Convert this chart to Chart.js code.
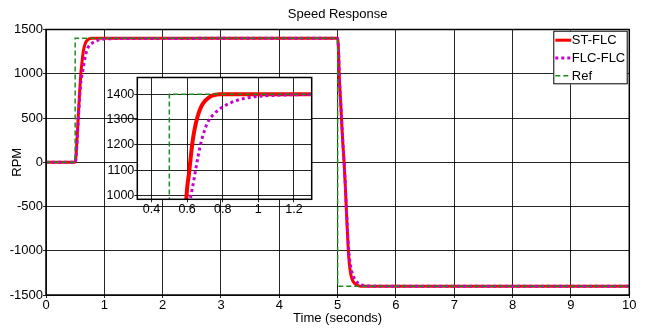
<!DOCTYPE html>
<html>
<head>
<meta charset="utf-8">
<script src="https://cdn.jsdelivr.net/npm/chart.js@4/dist/chart.umd.min.js"></script>
<style>
  body { margin: 0; background: #fff; }
  #wrap { position: relative; width: 649px; height: 328px; }
  #mainChart { position: absolute; left: 0; top: 0; }
  #insetChart { position: absolute; left: 100px; top: 70px; }
</style>
</head>
<body>
<div id="wrap">
  <canvas id="mainChart" width="649" height="328"></canvas>
  <canvas id="insetChart" width="215" height="150"></canvas>
</div>
<script>
// Speed response data (time in s, speed in RPM)
const stTime = [0, 0.5, 0.51, 0.52, 0.53, 0.54, 0.55, 0.56, 0.57, 0.58, 0.59, 0.6, 0.61, 0.62, 0.63, 0.64,
  0.66, 0.68, 0.7, 0.72, 0.74, 0.76, 0.78,
  5.0, 5.01, 5.02, 5.03, 5.05, 5.07, 5.09, 5.11, 5.13, 5.15, 5.17, 5.19, 5.21, 5.23, 5.26, 5.3, 5.35, 5.4, 10];
const stSpeed = [0, 0, 40, 130, 240, 360, 480, 600, 720, 830, 930, 1030, 1085, 1150, 1210, 1255,
  1315, 1352, 1373, 1386, 1394, 1398, 1400,
  1400, 1330, 1150, 940, 700, 440, 200, 0, -250, -550, -830, -1070, -1200, -1280, -1340, -1375, -1393, -1400, -1400];

const flcTime = [0, 0.5, 0.51, 0.52, 0.53, 0.54, 0.55, 0.56, 0.57, 0.58, 0.59, 0.6,
  0.62, 0.64, 0.66, 0.68, 0.7, 0.72, 0.75, 0.8, 0.85, 0.9, 0.95, 1.0, 1.1, 1.2, 1.3,
  5.0, 5.01, 5.02, 5.03, 5.05, 5.07, 5.09, 5.11, 5.13, 5.15, 5.17, 5.19, 5.21, 5.24, 5.27, 5.3, 5.35, 5.4, 5.45, 5.5, 5.6, 10];
const flcSpeed = [0, 0, 20, 90, 190, 300, 420, 540, 660, 770, 850, 920,
  995, 1070, 1150, 1215, 1262, 1295, 1322, 1350, 1368, 1380, 1387, 1392, 1396, 1398, 1399,
  1400, 1340, 1170, 960, 720, 460, 220, 10, -230, -520, -780, -990, -1120, -1230, -1290, -1330, -1365, -1382, -1392, -1397, -1400, -1400];

const refTime = [0, 0.5, 0.5, 5, 5, 10];
const refSpeed = [0, 0, 1400, 1400, -1400, -1400];

const seriesNames = ["ST-FLC", "FLC-FLC", "Ref"];

const mainXTicks = [0, 1, 2, 3, 4, 5, 6, 7, 8, 9, 10];
const mainYTicks = [-1500, -1000, -500, 0, 500, 1000, 1500];
const insetXTicks = [0.4, 0.6, 0.8, 1, 1.2];
const insetYTicks = [1000, 1100, 1200, 1300, 1400];

const FONT = "'Liberation Sans', Arial, Helvetica, sans-serif";
const RED = "#ff0000", MAG = "#cc00cc", GREEN = "#1f8a1f";

function pts(xs, ys) {
  return xs.map((x, i) => ({ x: x, y: ys[i] }));
}

function makeDatasets(redWidth) {
  return [
    { label: seriesNames[0], data: pts(stTime, stSpeed), borderColor: RED, borderWidth: redWidth,
      cubicInterpolationMode: "monotone", order: 2 },
    { label: seriesNames[1], data: pts(flcTime, flcSpeed), borderColor: MAG, borderWidth: 3,
      borderDash: [3, 3], cubicInterpolationMode: "monotone", order: 1 },
    { label: seriesNames[2], data: pts(refTime, refSpeed), borderColor: GREEN, borderWidth: 1.5,
      borderDash: [5, 3], tension: 0, order: 0 }
  ];
}

function fixedTicks(values) {
  return scale => { scale.ticks = values.map(v => ({ value: v })); };
}

const plain = v => String(v);

// white page, box round the plot, legend in the corner
const frame = {
  id: "frame",
  beforeDraw(chart, args, opts) {
    const ctx = chart.ctx;
    const a = chart.chartArea;
    ctx.save();
    ctx.fillStyle = "#fff";
    if (opts.whole) ctx.fillRect(0, 0, chart.width, chart.height);
    else ctx.fillRect(a.left, a.top, a.right - a.left, a.bottom - a.top);
    ctx.restore();
  },
  afterDraw(chart, args, opts) {
    const ctx = chart.ctx;
    const a = chart.chartArea;
    ctx.save();
    ctx.strokeStyle = "#000";
    ctx.lineWidth = 1.5;
    ctx.strokeRect(a.left, a.top, a.right - a.left, a.bottom - a.top);

    if (opts.legend) {
      const w = 74.4, h = 53.6;
      const lx = a.right - 1.6 - w, ly = a.top + 1.2;
      ctx.fillStyle = "#fff";
      ctx.fillRect(lx, ly, w, h);
      ctx.lineWidth = 1;
      ctx.strokeRect(lx + 0.5, ly + 0.5, w - 1, h - 1);
      ctx.font = "13px " + FONT;
      ctx.textBaseline = "middle";
      chart.data.datasets.forEach((ds, i) => {
        const y = ly + 9.5 + i * 17.8;
        ctx.beginPath();
        ctx.strokeStyle = ds.borderColor;
        ctx.lineWidth = i === 2 ? 1.5 : 3;
        ctx.setLineDash(ds.borderDash || []);
        ctx.moveTo(lx + 2, y);
        ctx.lineTo(lx + 18, y);
        ctx.stroke();
        ctx.setLineDash([]);
        ctx.fillStyle = "#000";
        ctx.fillText(ds.label, lx + 18.5, y + 0.5);
      });
    }
    ctx.restore();
  }
};

const gridStyle = { color: "rgba(0,0,0,0.85)", lineWidth: 1, drawTicks: true, tickLength: 3 };

new Chart(document.getElementById("mainChart"), {
  type: "line",
  data: { datasets: makeDatasets(3) },
  options: {
    responsive: false,
    animation: false,
    devicePixelRatio: 1,
    elements: { point: { radius: 0 }, line: { borderCapStyle: "butt" } },
    layout: { padding: { left: 0, right: 19.7, top: 0, bottom: 0 } },
    plugins: { legend: { display: false }, tooltip: { enabled: false }, frame: { whole: true, legend: true } },
    scales: {
      x: {
        type: "linear", min: 0, max: 10,
        afterBuildTicks: fixedTicks(mainXTicks),
        afterFit: s => { s.height = 33; },
        ticks: { color: "#000", font: { family: FONT, size: 13 }, padding: 0, maxRotation: 0, callback: plain },
        grid: gridStyle,
        border: { display: false },
        title: { display: true, text: "Time (seconds)", color: "#000", font: { family: FONT, size: 13 },
                 padding: { top: 0, bottom: 2 } }
      },
      top: {
        type: "linear", position: "top", min: 0, max: 10,
        afterFit: s => { s.height = 29.5; },
        ticks: { display: false },
        grid: { display: false },
        border: { display: false },
        title: { display: true, text: "Speed Response", color: "#000", font: { family: FONT, size: 13 },
                 padding: { top: 7, bottom: 0 } }
      },
      y: {
        type: "linear", min: -1500, max: 1500,
        afterBuildTicks: fixedTicks(mainYTicks),
        afterFit: s => { s.width = 46; },
        ticks: { color: "#000", font: { family: FONT, size: 13 }, padding: 0, callback: plain },
        grid: gridStyle,
        border: { display: false },
        title: { display: true, text: "RPM", color: "#000", font: { family: FONT, size: 13 },
                 padding: { top: 10, bottom: 0 } }
      }
    }
  },
  plugins: [frame]
});

new Chart(document.getElementById("insetChart"), {
  type: "line",
  data: { datasets: makeDatasets(4) },
  options: {
    responsive: false,
    animation: false,
    devicePixelRatio: 1,
    elements: { point: { radius: 0 }, line: { borderCapStyle: "butt" } },
    layout: { padding: { left: 0, right: 3.3, top: 7.3, bottom: 0 } },
    plugins: { legend: { display: false }, tooltip: { enabled: false }, frame: { whole: false, legend: false } },
    scales: {
      x: {
        type: "linear", min: 0.32, max: 1.3,
        afterBuildTicks: fixedTicks(insetXTicks),
        afterFit: s => { s.height = 20.7; },
        ticks: { color: "#000", font: { family: FONT, size: 12.5 }, padding: 0, maxRotation: 0, callback: plain },
        grid: gridStyle,
        border: { display: false }
      },
      y: {
        type: "linear", min: 986, max: 1466,
        afterBuildTicks: fixedTicks(insetYTicks),
        afterFit: s => { s.width = 37.3; },
        ticks: { color: "#000", font: { family: FONT, size: 12.5 }, padding: 0, callback: plain },
        grid: gridStyle,
        border: { display: false }
      }
    }
  },
  plugins: [frame]
});
</script>
</body>
</html>
